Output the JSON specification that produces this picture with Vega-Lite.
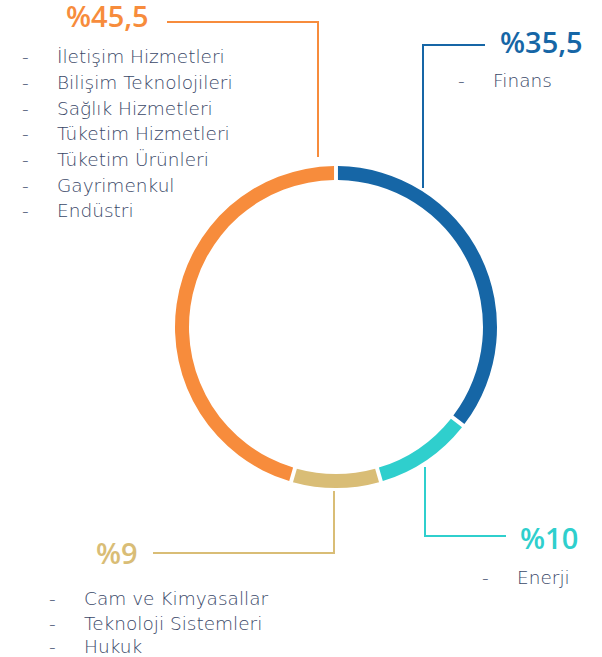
{
  "$schema": "https://vega.github.io/schema/vega-lite/v6.json",
  "width": 532,
  "height": 654,
  "padding": {"left": 70, "top": 0, "right": 0, "bottom": 3},
  "autosize": {"type": "none"},
  "background": "white",
  "config": {"view": {"stroke": null}},
  "datasets": {
    "pay": [
      {"grup": "%35,5", "sektor": "Finans", "pay": 35.5, "sira": 1},
      {"grup": "%10", "sektor": "Enerji", "pay": 10, "sira": 2},
      {"grup": "%9", "sektor": "Cam, Teknoloji, Hukuk", "pay": 9, "sira": 3},
      {"grup": "%45,5", "sektor": "Diğer", "pay": 45.5, "sira": 4}
    ],
    "cizgi": [
      {"grup": "%45,5", "n": 1, "x": 167, "y": 22},
      {"grup": "%45,5", "n": 2, "x": 318, "y": 22},
      {"grup": "%45,5", "n": 3, "x": 318, "y": 157},
      {"grup": "%35,5", "n": 1, "x": 485, "y": 45},
      {"grup": "%35,5", "n": 2, "x": 423, "y": 45},
      {"grup": "%35,5", "n": 3, "x": 423, "y": 188},
      {"grup": "%10", "n": 1, "x": 425, "y": 467},
      {"grup": "%10", "n": 2, "x": 425, "y": 536},
      {"grup": "%10", "n": 3, "x": 506, "y": 536},
      {"grup": "%9", "n": 1, "x": 334, "y": 491},
      {"grup": "%9", "n": 2, "x": 334, "y": 553},
      {"grup": "%9", "n": 3, "x": 153, "y": 553}
    ],
    "yuzde": [
      {"grup": "%45,5", "x": 66, "y": 27},
      {"grup": "%35,5", "x": 500, "y": 53},
      {"grup": "%10", "x": 520, "y": 549},
      {"grup": "%9", "x": 96, "y": 564}
    ],
    "liste": [
      {"metin": "İletişim Hizmetleri", "x": 57, "y": 63},
      {"metin": "Bilişim Teknolojileri", "x": 57, "y": 89},
      {"metin": "Sağlık Hizmetleri", "x": 57, "y": 114.5},
      {"metin": "Tüketim Hizmetleri", "x": 57, "y": 140},
      {"metin": "Tüketim Ürünleri", "x": 57, "y": 166},
      {"metin": "Gayrimenkul", "x": 57, "y": 191.5},
      {"metin": "Endüstri", "x": 57, "y": 217},
      {"metin": "Finans", "x": 493, "y": 87},
      {"metin": "Enerji", "x": 517, "y": 584},
      {"metin": "Cam ve Kimyasallar", "x": 84, "y": 605},
      {"metin": "Teknoloji Sistemleri", "x": 84, "y": 630},
      {"metin": "Hukuk", "x": 84, "y": 653}
    ]
  },
  "layer": [
    {
      "data": {"name": "pay"},
      "mark": {"type": "arc", "outerRadius": 161, "innerRadius": 147, "padAngle": 0.018},
      "encoding": {
        "theta": {"field": "pay", "type": "quantitative", "stack": true},
        "order": {"field": "sira", "type": "quantitative"},
        "color": {
          "field": "grup", "type": "nominal", "legend": null,
          "scale": {"domain": ["%35,5", "%10", "%9", "%45,5"], "range": ["#1666a6", "#2fcfcd", "#d9bd76", "#f78c3c"]}
        }
      }
    },
    {
      "data": {"name": "cizgi"},
      "mark": {"type": "line", "strokeWidth": 2, "strokeCap": "butt", "strokeJoin": "miter"},
      "encoding": {
        "x": {"field": "x", "type": "quantitative", "axis": null, "scale": {"domain": [70, 602], "nice": false, "zero": false}},
        "y": {"field": "y", "type": "quantitative", "axis": null, "scale": {"domain": [0, 654], "nice": false, "zero": false, "reverse": true}},
        "order": {"field": "n", "type": "quantitative"},
        "detail": {"field": "grup"},
        "color": {"field": "grup", "type": "nominal", "legend": null}
      }
    },
    {
      "data": {"name": "yuzde"},
      "mark": {"type": "text", "align": "left", "baseline": "alphabetic", "font": "Open Sans", "fontWeight": 600, "fontSize": 29},
      "encoding": {
        "x": {"field": "x", "type": "quantitative", "axis": null, "scale": {"domain": [70, 602], "nice": false, "zero": false}},
        "y": {"field": "y", "type": "quantitative", "axis": null, "scale": {"domain": [0, 654], "nice": false, "zero": false, "reverse": true}},
        "text": {"field": "grup"},
        "color": {"field": "grup", "type": "nominal", "legend": null}
      }
    },
    {
      "data": {"name": "liste"},
      "mark": {"type": "text", "align": "left", "baseline": "alphabetic", "font": "DejaVu Sans", "fontWeight": 300, "fontSize": 18.5, "color": "#3a4868", "dx": -35},
      "encoding": {
        "x": {"field": "x", "type": "quantitative", "axis": null, "scale": {"domain": [70, 602], "nice": false, "zero": false}},
        "y": {"field": "y", "type": "quantitative", "axis": null, "scale": {"domain": [0, 654], "nice": false, "zero": false, "reverse": true}},
        "text": {"value": "-"}
      }
    },
    {
      "data": {"name": "liste"},
      "mark": {"type": "text", "align": "left", "baseline": "alphabetic", "font": "DejaVu Sans", "fontWeight": 300, "fontSize": 18.5, "color": "#3a4868"},
      "encoding": {
        "x": {"field": "x", "type": "quantitative", "axis": null, "scale": {"domain": [70, 602], "nice": false, "zero": false}},
        "y": {"field": "y", "type": "quantitative", "axis": null, "scale": {"domain": [0, 654], "nice": false, "zero": false, "reverse": true}},
        "text": {"field": "metin"}
      }
    }
  ]
}
